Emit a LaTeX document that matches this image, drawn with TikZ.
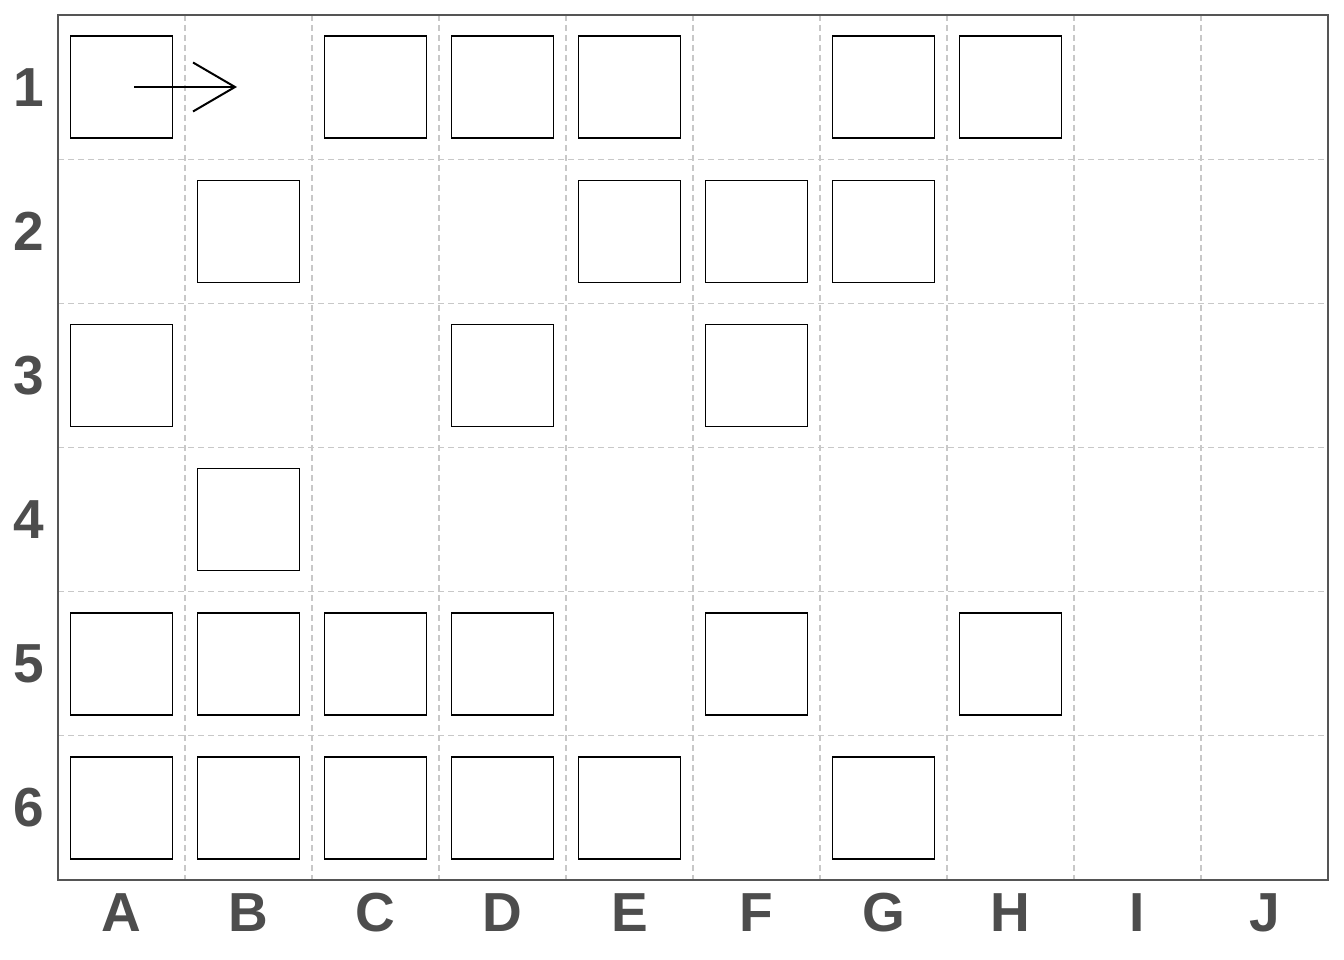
\documentclass[tikz,border=0pt]{standalone}
\usepackage{fontspec}
\setmainfont{Liberation Sans}
\usetikzlibrary{arrows.meta}
\definecolor{labelgray}{HTML}{4D4D4D}
\definecolor{gridgray}{HTML}{C8C8C8}
\definecolor{framegray}{HTML}{555555}
\tikzset{
  cellbox/.style={draw=black, line width=1.5pt, minimum width=102pt, minimum height=102pt, inner sep=0pt, fill=white},
  gridline/.style={draw=gridgray, line width=1.2pt, dash pattern=on 6pt off 4pt},
  axislabel/.style={text=labelgray, font=\fontsize{55}{55}\selectfont\bfseries, inner sep=0pt},
  framestyle/.style={draw=framegray, line width=1.3pt},
  movearrow/.style={draw=black, line width=2pt, -{Straight Barb[length=42pt, width=49pt, line width=2pt]}}
}
\begin{document}
\begin{tikzpicture}[x=1pt, y=-1pt]
\useasboundingbox (0,0) rectangle (1344,960);
\fill[white] (0,0) rectangle (1344,960);
% grid
\foreach \i in {1,...,9} {
  \draw[gridline] ({58+127*\i},15) -- ({58+127*\i},880);
}
\foreach \j in {1,...,5} {
  \draw[gridline] (58,{15+144.17*\j}) -- (1328,{15+144.17*\j});
}
\draw[framestyle] (58,15) rectangle (1328,880);
% boxes
\foreach \c/\r in {1/1,3/1,4/1,5/1,7/1,8/1,
                   2/2,5/2,6/2,7/2,
                   1/3,4/3,6/3,
                   2/4,
                   1/5,2/5,3/5,4/5,6/5,8/5,
                   1/6,2/6,3/6,4/6,5/6,7/6} {
  \node[cellbox] (b\c-\r) at ({58+127*(\c-0.5)},{15+144.17*(\r-0.5)}) {};
}
% labels
\foreach \l [count=\c] in {A,B,C,D,E,F,G,H,I,J} {
  \node[axislabel] (col\c) at ({58+127*(\c-0.5)},913) {\l};
}
\foreach \r in {1,...,6} {
  \node[axislabel] (row\r) at (29,{15+144.17*(\r-0.5)}) {\r};
}
% arrow
\coordinate (arrowstart) at (134,87);
\coordinate (arrowend) at (237,87);
\draw[movearrow] (arrowstart) -- (arrowend);
\end{tikzpicture}
\end{document}
